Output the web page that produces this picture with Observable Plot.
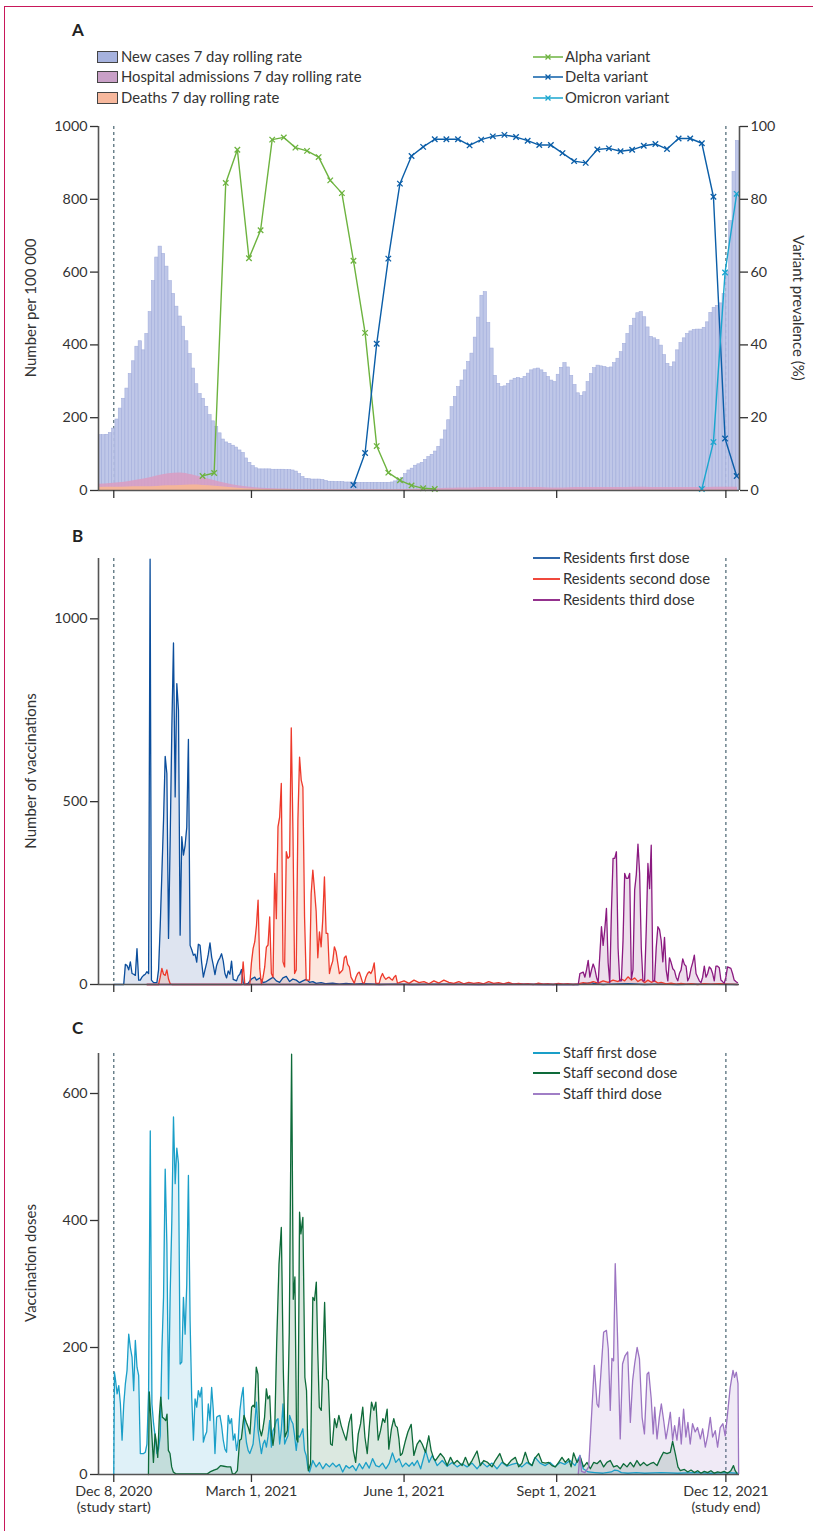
<!DOCTYPE html>
<html><head><meta charset="utf-8">
<script src="https://cdn.jsdelivr.net/npm/d3@7"></script>
<script src="https://cdn.jsdelivr.net/npm/@observablehq/plot@0.6"></script>
<style>
body{margin:0;background:#fff;font-family:Lato,"Open Sans",sans-serif;color:#333}
#wrap{position:relative;width:813px;height:1531px;overflow:hidden}
.frame{position:absolute;left:4px;top:6px;width:900px;height:1600px;border-top:1px solid #c8175a;border-left:1px solid #c8175a}
.letter{position:absolute;font-weight:bold;font-size:17px;color:#222;line-height:20px}
.row{position:absolute;font-size:14.8px;line-height:18px;white-space:nowrap;color:#333}
.sw{display:inline-block;width:21px;height:12px;border:1px solid #444;box-sizing:border-box;vertical-align:-1px;margin-right:3px}
.ylab{position:absolute;font-size:15px;white-space:nowrap;color:#333}
.pl{position:absolute;left:0}
</style></head><body><div id="wrap"><div class="frame"></div></div>
<script>
// ---------- DATA ----------
const studyStart = "2020-12-08";
const tickDates = ["2020-12-08","2021-03-01","2021-06-01","2021-09-01","2021-12-12"];
const tickLabels = ["Dec 8, 2020","March 1, 2021","June 1, 2021","Sept 1, 2021","Dec 12, 2021"];
const tickSubLabels = ["(study start)","","","","(study end)"];

// Panel A: new cases 7-day rolling rate per 100 000, every 2 days from Nov 29, 2020 (day -9)
const casesFirstDay = -9, casesStep = 2;
const cases = [152,152,153,158,170,195,225,252,280,320,355,395,410,385,430,490,575,640,670,650,
615,575,540,505,478,450,410,375,335,292,265,252,230,207,190,174,157,140,132,128,
123,118,110,103,88,76,67,61,58,58,58,58,57,57,57,57,56,56,55,52,
45,37,32,31,30,30,30,29,26,24,24,23,23,23,22,22,22,21,21,21,
21,21,21,21,21,21,21,21,22,25,30,35,45,55,60,68,72,76,84,92,
98,107,120,140,165,193,229,257,284,302,330,353,376,420,475,535,545,460,390,315,
293,284,286,293,302,307,309,307,312,321,330,333,335,330,323,312,302,298,318,337,
350,338,315,290,267,260,270,298,320,336,343,341,339,336,338,350,362,380,403,430,
452,472,487,490,476,448,422,418,413,398,372,348,339,352,385,405,418,430,437,441,
442,442,447,462,488,502,507,514,540,600,740,875,960];
// weekly from Nov 29, 2020
const weeklyFirstDay = -9;
const hospital = [17,19,22,27,32,40,46,48,43,35,27,19,13,9,6,5,4,3,3,3,2,2,2,2,2,2,3,3,4,5,6,7,7,8,8,8,8,8,8,7,7,8,8,8,8,8,9,9,8,8,8,8,8,9,9,9];
const deaths = [8,9,9,10,10,11,13,14,15,14,12,9,6,4,3,2,1.5,1,1,1,1,1,1,1,1,1,1,1,1,1,1,1,1,1,1,1,1,1,1,1,1,1,1,1,1,1,1,1,1,1,1,1,1,1,1,1];
// variant prevalence (%), weekly from day 53.5
const variantFirstDay = 53.5;
const alpha = [4.0,4.8,84.5,93.6,63.8,71.5,96.4,97.0,94.2,93.3,91.6,85.2,81.7,63.1,43.3,12.2,4.9,2.8,1.4,0.6,0.4];
const deltaStartWeek = 13;
const delta = [1.5,10.3,40.3,63.7,84.3,91.9,94.4,96.5,96.5,96.5,94.8,96.4,97.3,97.7,97.1,96.1,94.9,94.9,92.7,90.5,90.0,93.7,94.0,93.2,93.6,94.7,95.2,93.8,96.7,96.7,95.4,80.7,14.3,4.0];
const omicronStartWeek = 43;
const omicron = [0.4,13.3,59.9,81.5];

// Panel B: residents vaccinations [day since Dec 8 2020, count]
const resFirst = [[0,0],[6,0],[7,55],[8,52],[9,40],[10,62],[11,30],[12,28],[13,25],[14,98],[15,12],[16,12],[17,20],[18,25],[19,28],[20,35],[21,30],[21.9,1163],[22.7,12],[24,5],[26,5],[27,40],[28,160],[29,304],[30,450],[31,624],[32,577],[33,126],[34,395],[35,700],[36,934],[37,513],[38,823],[39,750],[40,135],[41,404],[42,354],[43,380],[44,430],[45,670],[46,107],[47,95],[48,80],[49,83],[50,61],[51,110],[52,107],[53,59],[54,20],[55,40],[56,59],[57,83],[58,114],[59,75],[60,52],[61,27],[62,52],[63,65],[64,73],[65,84],[66,64],[67,30],[68,18],[69,37],[70,28],[71,64],[72,14],[73,12],[74,10],[75,23],[76,28],[77,41],[78,5],[79,0],[81,3],[83,15],[85,20],[86,12],[88,18],[90,5],[92,8],[94,14],[96,20],[98,10],[100,6],[102,18],[104,22],[106,8],[108,15],[110,12],[112,5],[114,10],[116,14],[118,6],[120,8],[122,3],[125,5],[128,2],[132,4],[136,1],[140,3],[145,1],[150,2],[160,0],[170,1],[180,0],[200,1],[220,0],[240,1],[260,0],[280,0],[285,3],[288,5],[290,2],[295,0],[300,1],[310,2],[320,0],[330,1],[340,0],[350,1],[376,0]];
const resSecond = [[20,0],[27,0],[28,20],[29,44],[30,28],[31,25],[32,40],[33,15],[34,2],[35,0],[77,0],[78,62],[79,0],[82,0],[83,60],[84,98],[85,117],[86,160],[87,231],[88,44],[89,0],[90,20],[91,48],[92,102],[93,108],[94,185],[95,30],[96,20],[97,304],[98,180],[99,431],[100,458],[101,550],[102,62],[103,48],[104,363],[105,345],[106,350],[107,702],[108,422],[109,30],[110,40],[111,450],[112,622],[113,559],[114,540],[115,185],[116,12],[118,12],[119,249],[120,313],[121,258],[122,200],[123,73],[124,144],[125,103],[126,180],[127,294],[128,140],[129,140],[130,30],[131,50],[132,64],[133,103],[134,90],[135,60],[136,30],[137,35],[138,40],[139,73],[140,78],[141,55],[142,48],[143,20],[144,12],[145,3],[146,20],[147,30],[148,34],[149,20],[150,5],[151,3],[152,20],[153,30],[154,35],[155,30],[156,40],[157,59],[158,3],[160,3],[161,20],[162,30],[163,20],[164,14],[165,18],[166,20],[167,15],[168,12],[169,20],[170,25],[171,4],[172,5],[175,10],[178,3],[181,12],[184,5],[187,8],[190,2],[193,10],[196,4],[199,12],[202,6],[205,3],[208,8],[211,2],[214,6],[217,3],[220,5],[223,2],[226,8],[229,3],[232,5],[235,2],[238,6],[241,1],[244,3],[247,1],[250,2],[253,0],[256,4],[259,1],[262,2],[265,0],[268,3],[271,1],[274,2],[277,0],[280,2],[283,5],[286,3],[289,8],[292,4],[295,10],[298,6],[301,12],[304,8],[306,15],[308,10],[310,21],[312,12],[314,18],[316,8],[318,14],[320,5],[322,12],[324,6],[326,10],[328,4],[330,6],[333,2],[336,4],[339,1],[342,3],[345,1],[348,2],[352,0],[356,2],[360,1],[365,2],[370,1],[376,0]];
const resThird = [[20,0],[280,0],[281,30],[282,32],[283,34],[284,20],[285,40],[286,66],[287,20],[288,40],[289,56],[290,43],[291,20],[292,5],[293,80],[294,158],[295,107],[296,150],[297,208],[298,60],[299,5],[300,200],[301,345],[302,345],[303,363],[304,100],[305,10],[306,10],[307,120],[308,304],[309,290],[310,290],[311,304],[312,15],[313,40],[314,258],[315,300],[316,384],[317,304],[318,100],[319,10],[320,10],[321,150],[322,331],[323,262],[324,381],[325,10],[326,10],[327,100],[328,158],[329,150],[330,120],[331,62],[332,129],[333,40],[334,10],[335,73],[336,60],[337,43],[338,38],[339,20],[340,10],[341,30],[342,40],[343,70],[344,55],[345,50],[346,10],[347,20],[348,44],[349,60],[350,80],[351,30],[352,20],[353,10],[354,5],[355,20],[356,50],[357,20],[358,30],[359,48],[360,43],[361,30],[362,10],[363,50],[364,50],[365,46],[366,12],[367,8],[368,3],[369,20],[370,48],[371,46],[372,44],[373,30],[374,12],[375,8],[376,5]];

// Panel C: staff vaccination doses [day since Dec 8 2020, count]
const staffFirst = [[0,0],[0.4,161],[1,150],[2,127],[3,140],[4,111],[5,54],[6,110],[7,143],[8,164],[9,221],[10,200],[11,185],[12,132],[13,211],[14,169],[15,156],[16,33],[17,33],[18,33],[19,35],[20,48],[21,132],[22,541],[23,111],[24,80],[25,59],[26,33],[27,40],[28,61],[29,195],[30,279],[31,481],[32,363],[33,119],[34,284],[35,400],[36,563],[37,458],[38,514],[39,490],[40,174],[41,177],[42,279],[43,221],[44,300],[45,471],[46,242],[47,120],[48,54],[49,119],[50,106],[51,132],[52,122],[53,137],[54,51],[55,61],[56,67],[57,111],[58,85],[59,137],[60,101],[61,33],[62,90],[63,92],[64,93],[65,77],[66,54],[67,40],[68,35],[69,93],[70,80],[71,88],[72,54],[73,64],[74,38],[75,54],[76,100],[77,122],[78,137],[79,74],[80,50],[81,38],[82,33],[83,40],[84,48],[85,80],[86,114],[87,69],[88,50],[89,33],[90,48],[91,54],[92,43],[93,60],[94,85],[95,43],[96,69],[97,75],[98,85],[99,88],[100,48],[101,70],[102,111],[103,48],[104,55],[105,61],[106,93],[107,85],[108,80],[109,61],[110,38],[111,61],[112,59],[113,65],[114,72],[115,38],[116,30],[117,10],[118,4],[120,22],[122,12],[124,19],[126,9],[128,17],[130,12],[132,18],[134,12],[136,16],[138,4],[140,14],[142,10],[144,14],[146,6],[148,17],[150,9],[152,19],[154,10],[156,25],[158,14],[160,12],[162,18],[164,9],[166,17],[168,34],[170,19],[172,25],[174,12],[176,18],[178,13],[180,19],[181,14],[183,22],[185,9],[188,38],[190,19],[192,30],[195,14],[198,22],[201,13],[204,19],[207,12],[210,17],[213,12],[216,18],[219,9],[222,19],[225,12],[228,18],[231,9],[234,19],[237,13],[240,16],[243,18],[246,12],[249,19],[252,14],[254,27],[257,18],[260,14],[263,19],[266,12],[269,19],[272,16],[275,22],[278,14],[281,30],[283,9],[286,4],[290,3],[295,2],[300,4],[302,7],[304,6],[306,3],[310,2],[315,3],[320,2],[330,3],[340,2],[350,3],[360,2],[370,3],[376,2]];
const staffSecond = [[20.9,0],[21.4,130],[22.7,74],[23.9,19],[24.9,64],[25.5,54],[26.5,27],[27.5,93],[28.3,122],[29.3,90],[30.3,88],[31.3,85],[32.1,95],[32.9,38],[33.9,33],[34.9,12],[35.9,4],[37.4,1],[56.4,1],[58,4],[60.4,7],[62.5,9],[64.4,14],[66.4,13],[68.5,12],[70.5,12],[71.5,1],[72.9,1],[74.5,6],[75.9,54],[76.9,56],[78.5,93],[79.9,82],[81.1,74],[82.1,64],[83.1,106],[84.1,109],[84.9,106],[85.9,169],[86.9,158],[87.9,72],[89,61],[89.9,72],[90.9,90],[92,135],[92.9,119],[94,124],[95,64],[96,46],[97,67],[98.2,206],[99.6,331],[101,389],[102.2,164],[103.2,59],[104.6,69],[105.8,224],[107.2,662],[108.2,276],[109.2,311],[110.2,56],[111,51],[112,413],[112.8,379],[114,405],[115.2,153],[116.2,132],[117.3,6],[118.6,17],[120,279],[121,274],[122.1,303],[123,190],[123.9,106],[125.1,101],[126.1,179],[127.1,271],[128.3,151],[129.3,148],[130.7,48],[131.7,46],[133.1,88],[134.3,74],[135.7,93],[137.1,77],[138.7,64],[140.1,54],[141.7,80],[143.2,95],[144.4,38],[145.8,19],[147.4,64],[148.8,80],[150.1,106],[151.4,59],[152.8,33],[154.2,80],[155.4,114],[156.8,101],[158,114],[159.4,54],[160.8,69],[162.2,88],[163.4,82],[164.8,103],[165.8,40],[167.4,72],[168.8,88],[169.8,77],[170.9,74],[171.9,56],[172.8,30],[173.9,33],[175.9,54],[177.3,67],[179.3,79],[180.9,30],[182.9,48],[184.5,54],[185.9,48],[187.9,35],[189.9,61],[191.3,38],[192.9,25],[193.9,22],[196.9,33],[198.9,27],[201,14],[203,27],[205,17],[207,22],[210,14],[212,27],[214,14],[216,22],[219,37],[221,14],[223,22],[225.4,19],[228,12],[230,22],[232.7,33],[234.7,19],[237.1,14],[239.5,22],[242.1,27],[244.1,12],[246.1,18],[248.1,35],[250.1,19],[252.2,14],[253.7,25],[256.1,33],[258.2,19],[260.2,18],[262.2,19],[264.2,14],[266.2,12],[268.2,19],[270.2,27],[272.2,19],[274.2,25],[275.7,12],[277.2,34],[279.3,19],[281.3,27],[283.2,12],[285.3,19],[287.3,9],[289.3,19],[291.3,17],[293.3,22],[295.3,12],[297.3,19],[299.3,22],[301.3,12],[303.4,14],[305.3,9],[307.3,17],[309.4,12],[311.4,19],[313.4,12],[315.4,22],[317.4,14],[319.4,19],[321.4,14],[323.4,17],[325.4,19],[327.5,14],[329.4,25],[331.4,35],[333.5,33],[335.5,35],[336.9,52],[338.5,33],[340.1,12],[341.5,6],[344,8],[346,4],[348,7],[350,3],[352,6],[354,2],[356,5],[358,3],[360,6],[362,2],[364,4],[366,3],[368,5],[370,2],[372,6],[373.6,14],[374.6,6],[375.6,2]];
const staffThird = [[280,0],[281,30],[282,5],[284,3],[286.3,12],[288.3,106],[289.7,172],[291.3,111],[292.3,106],[293.7,161],[295.3,224],[297,227],[298.1,198],[299.3,101],[300.3,183],[301.3,179],[302.3,332],[303.7,216],[305.3,56],[306.7,174],[308.2,187],[309.8,193],[311.4,82],[312.8,148],[314,174],[315.5,200],[316.9,182],[318.5,90],[319.9,64],[321.5,158],[322.5,161],[324,119],[325.2,64],[326.1,106],[327.5,56],[328.9,90],[330.1,111],[331.5,85],[332.9,56],[334.1,74],[335.5,98],[336.9,54],[338.1,77],[339.5,54],[340.9,90],[342.1,48],[343.5,103],[344.9,59],[346.1,82],[347.5,48],[348.9,80],[350.5,67],[351.9,74],[353.6,56],[355,72],[356.6,43],[358,61],[359.6,90],[361,59],[362.6,69],[364,43],[365.6,74],[367.2,80],[368.6,61],[369.6,85],[371.6,137],[373.3,164],[374.2,153],[375.3,161],[376.3,143],[376.7,1]];

// ---------- HELPERS ----------
const DAY = 864e5;
const t0 = Date.parse(studyStart + "T00:00Z");
const toDate = d => new Date(t0 + d * DAY);
const xDomain = [new Date(Date.UTC(2020,10,28,19)), new Date(Date.UTC(2021,11,20,5))];
const ticks = tickDates.map(s => new Date(s + "T00:00Z"));
const studyLines = [ticks[0], ticks[4]];
const labelMap = new Map(ticks.map((t,i) => [+t, tickLabels[i]]));
const subMap = new Map(ticks.map((t,i) => [+t, tickSubLabels[i]]));
const FONT = "Lato, 'Open Sans', sans-serif";
const AX = "#555";
const DOT = "#56707c";
const plain = d => String(d);

function base(h, mt, mb, ydom) {
  return {width:813, height:h, marginLeft:98, marginRight:74, marginTop:mt, marginBottom:mb,
    x:{type:"utc", domain:xDomain}, y:{domain:ydom},
    style:{fontFamily:FONT, fontSize:"14.3px", color:"#333", background:"transparent", overflow:"visible"}};
}
const wrap = document.getElementById("wrap");
function place(node, top) { const d = document.createElement("div"); d.className = "pl"; d.style.top = top + "px"; d.appendChild(node); wrap.appendChild(d); }
function html(s) { wrap.insertAdjacentHTML("beforeend", s); }
const pairs = arr => arr.map(([d, v]) => ({date: toDate(d), v}));
const xAxisNoLabels = () => Plot.axisX({ticks, tickSize:8, tickFormat: () => "", label:null, strokeWidth:1.3});

// ---------- PANEL A ----------
const casesData = cases.map((v,k) => ({x1: toDate(casesFirstDay + casesStep*k), x2: toDate(casesFirstDay + casesStep*(k+1)), v}));
const hospData = hospital.map((v,k) => ({date: toDate(weeklyFirstDay + 7*k), v}));
const deathData = deaths.map((v,k) => ({date: toDate(weeklyFirstDay + 7*k), v}));
const vAlpha = alpha.map((p,k) => ({date: toDate(variantFirstDay + 7*k), p}));
const vDelta = delta.map((p,k) => ({date: toDate(variantFirstDay + 7*(deltaStartWeek+k)), p}));
const vOmicron = omicron.map((p,k) => ({date: toDate(variantFirstDay + 7*(omicronStartWeek+k)), p}));
const variantMarks = [[vAlpha,"#6db33f"],[vDelta,"#0b5ea8"],[vOmicron,"#1aa6cf"]].flatMap(([data,c]) => [
  Plot.line(data, {x:"date", y: d => d.p*10, stroke:c, strokeWidth:1.4}),
  Plot.dot(data, {x:"date", y: d => d.p*10, symbol:"times", r:2.6, stroke:c, strokeWidth:1.3})
]);
const plotA = Plot.plot({...base(400, 16, 20, [0,1000]), marks:[
  Plot.ruleX(studyLines, {stroke:DOT, strokeDasharray:"3,3", strokeWidth:1.3}),
  Plot.rectY(casesData, {x1:"x1", x2:"x2", y:"v", fill:"#bac3e6", fillOpacity:0.93, stroke:"#a4afdc", strokeWidth:0.6}),
  Plot.areaY(hospData, {x:"date", y:"v", fill:"#d99cc2", fillOpacity:0.85, curve:"monotone-x"}),
  Plot.areaY(deathData, {x:"date", y:"v", fill:"#f6b697", fillOpacity:0.95, curve:"monotone-x"}),
  ...variantMarks,
  Plot.ruleY([0], {stroke:AX, strokeWidth:1.6}),
  Plot.ruleX([xDomain[0]], {stroke:AX, strokeWidth:1.6}),
  Plot.ruleX([xDomain[1]], {stroke:AX, strokeWidth:1.6}),
  Plot.axisY({ticks:[0,200,400,600,800,1000], tickFormat: plain, tickSize:8, tickPadding:3, label:null, strokeWidth:1.3}),
  Plot.axisY({anchor:"right", ticks:[0,200,400,600,800,1000], tickFormat: d => String(d/10), tickSize:8, tickPadding:3, label:null, strokeWidth:1.3}),
  xAxisNoLabels()
]});
place(plotA, 110);

// ---------- PANEL B ----------
const RF = pairs(resFirst), RS = pairs(resSecond), RT = pairs(resThird);
const plotB = Plot.plot({...base(464, 18, 20, [0,1165]), marks:[
  Plot.ruleX(studyLines, {stroke:DOT, strokeDasharray:"3,3", strokeWidth:1.3}),
  Plot.areaY(RF, {x:"date", y:"v", fill:"#7d92c4", fillOpacity:0.25}),
  Plot.areaY(RS, {x:"date", y:"v", fill:"#f29a7a", fillOpacity:0.25}),
  Plot.areaY(RT, {x:"date", y:"v", fill:"#9c4d94", fillOpacity:0.18}),
  Plot.line(RF, {x:"date", y:"v", stroke:"#0b4e9c", strokeWidth:1.3}),
  Plot.line(RS, {x:"date", y:"v", stroke:"#ee3a2c", strokeWidth:1.3}),
  Plot.line(RT, {x:"date", y:"v", stroke:"#8b1a80", strokeWidth:1.3}),
  Plot.ruleY([0], {stroke:AX, strokeWidth:1.6}),
  Plot.ruleX([xDomain[0]], {stroke:AX, strokeWidth:1.6}),
  Plot.axisY({ticks:[0,500,1000], tickFormat: plain, tickSize:8, tickPadding:3, label:null, strokeWidth:1.3}),
  xAxisNoLabels()
]});
place(plotB, 540);

// ---------- PANEL C ----------
const SF = pairs(staffFirst), SS = pairs(staffSecond), ST = pairs(staffThird);
const plotC = Plot.plot({...base(496, 18, 57, [0,663]), marks:[
  Plot.ruleX(studyLines, {stroke:DOT, strokeDasharray:"3,3", strokeWidth:1.3}),
  Plot.areaY(SF, {x:"date", y:"v", fill:"#c4e5f2", fillOpacity:0.55}),
  Plot.areaY(SS, {x:"date", y:"v", fill:"#6fa585", fillOpacity:0.25}),
  Plot.areaY(ST, {x:"date", y:"v", fill:"#9c74c2", fillOpacity:0.15}),
  Plot.line(SF, {x:"date", y:"v", stroke:"#1a9fc8", strokeWidth:1.3}),
  Plot.line(SS, {x:"date", y:"v", stroke:"#0e6b3a", strokeWidth:1.3}),
  Plot.line(ST, {x:"date", y:"v", stroke:"#9c74c2", strokeWidth:1.3}),
  Plot.ruleY([0], {stroke:AX, strokeWidth:1.6}),
  Plot.ruleX([xDomain[0]], {stroke:AX, strokeWidth:1.6}),
  Plot.axisY({ticks:[0,200,400,600], tickFormat: plain, tickSize:8, tickPadding:3, label:null, strokeWidth:1.3}),
  Plot.axisX({ticks, tickSize:8, tickPadding:3, tickFormat: d => labelMap.get(+d), label:null, strokeWidth:1.3}),
  Plot.text(ticks, {x: d => d, text: d => subMap.get(+d), frameAnchor:"bottom", dy:37, fill:"#333", fontSize:14.3})
]});
place(plotC, 1035);

// ---------- TEXT: letters, legends, axis titles ----------
html(`<div class="letter" style="left:72px;top:20px">A</div>
<div class="letter" style="left:72px;top:526px">B</div>
<div class="letter" style="left:72px;top:1018px">C</div>`);
const legA = [["New cases 7 day rolling rate","#a6b2de"],["Hospital admissions 7 day rolling rate","#c9a0c7"],["Deaths 7 day rolling rate","#f7b89d"]];
const legAy = [47,67,88];
legA.forEach(([t,c],i) => html(`<div class="row" style="left:97px;top:${legAy[i]}px"><span class="sw" style="background:${c}"></span>${t}</div>`));
const legV = [["Alpha variant","#6db33f"],["Delta variant","#0b5ea8"],["Omicron variant","#1aa6cf"]];
legV.forEach(([t,c],i) => html(`<div class="row" style="left:533px;top:${legAy[i]}px"><svg width="30" height="10" style="vertical-align:0px;margin-right:2px"><line x1="0" y1="5" x2="30" y2="5" stroke="${c}" stroke-width="1.5"/><path d="M12.5,2.5L17.5,7.5M17.5,2.5L12.5,7.5" stroke="${c}" stroke-width="1.3"/></svg>${t}</div>`));
const legB = [["Residents first dose","#2f67aa"],["Residents second dose","#f0493c"],["Residents third dose","#94318d"]];
const legBy = [548,569,590];
legB.forEach(([t,c],i) => html(`<div class="row" style="left:533px;top:${legBy[i]}px"><svg width="27" height="10" style="vertical-align:0px;margin-right:3px"><line x1="0" y1="5" x2="27" y2="5" stroke="${c}" stroke-width="2"/></svg>${t}</div>`));
const legC = [["Staff first dose","#1a9fc8"],["Staff second dose","#0e6b3a"],["Staff third dose","#a07ec6"]];
const legCy = [1043,1063,1084];
legC.forEach(([t,c],i) => html(`<div class="row" style="left:533px;top:${legCy[i]}px"><svg width="27" height="10" style="vertical-align:0px;margin-right:3px"><line x1="0" y1="5" x2="27" y2="5" stroke="${c}" stroke-width="2"/></svg>${t}</div>`));
const ytitles = [["Number per 100 000",30,308,-90],["Variant prevalence (%)",799,308,90],["Number of vaccinations",30,771,-90],["Vaccination doses",30,1263,-90]];
ytitles.forEach(([t,x,y,r]) => html(`<div class="ylab" style="left:${x}px;top:${y}px;transform:translate(-50%,-50%) rotate(${r}deg)">${t}</div>`));
</script></body></html>
